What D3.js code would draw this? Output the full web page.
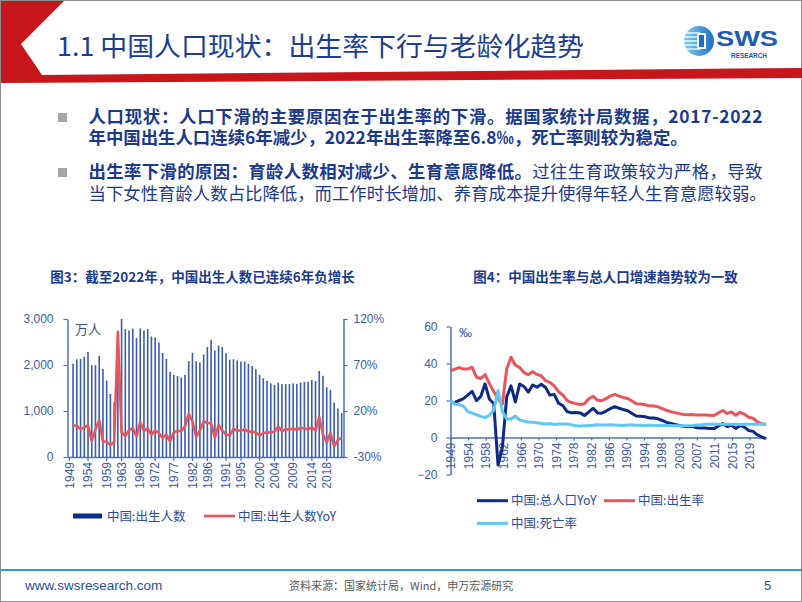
<!DOCTYPE html>
<html><head><meta charset="utf-8">
<script src="https://cdn.jsdelivr.net/npm/d3@7"></script>
<style>body{margin:0;background:#fff}svg{display:block}</style>
</head><body><svg id="c" width="802" height="602"></svg>
<script>
// ---------- DATA ----------
const years = d3.range(1949, 2023);
// 图3: 出生人数 (万人), 1949-2022
const births = [null,2030,2125,2130,2180,2285,1995,1995,2195,1915,1660,1370,1190,2450,3000,2780,2750,2795,2585,2795,
  2750,2780,2620,2600,2490,2260,2130,1850,1785,1760,1725,1785,2085,2265,2080,2055,2230,2390,2545,2315,
  2420,2390,2255,2115,2125,2100,2075,2075,2025,1980,1910,1785,1710,1655,1600,1565,1615,1585,1585,1585,
  1600,1590,1615,1635,1635,1675,1650,1870,1765,1515,1455,1185,1055,955];
// 图3: 出生人数YoY (%)
const birthsYoY = [null,4.5,4,0,2.3,4.5,-12.7,0,10,-12.8,-13.3,-17,-14,106,-3,-7.3,-1,1.5,-7.5,8,
  -1.6,1.1,-5.8,-0.8,-4.2,-9.2,-5.8,-13,-3.5,-1.4,-2,3.5,16.8,8.6,-8.2,-1.2,8.5,7.2,6.5,-9,
  4.5,-1.2,-5.6,-6.2,0.5,-1.2,-1.2,0,-2.4,-2.2,-3.5,-6.5,-4.2,-3.2,-3.3,-2.2,3.2,-1.9,0,0,
  0.9,-0.6,1.6,1.2,0,2.4,-1.5,13.3,-5.6,-14.2,-4,-18.6,-11,-9.5];
const leftXTicks = [1949,1954,1959,1963,1968,1972,1977,1982,1986,1991,1995,2000,2004,2009,2014,2018];
const leftYTicks = [0,1000,2000,3000];
const leftY2Ticks = [-30,20,70,120];

// 图4: 总人口YoY (‰), 出生率 (‰), 死亡率 (‰), 1949-2022
const popYoY = [null,19,20,21,22.9,25,19.9,22.2,29,20.7,18.4,-14.9,-5.3,21.8,27.9,19.2,28.9,27.6,24.5,28.4,
  27.2,28.8,27,22.9,23.3,18.5,17.2,14,13.4,13.5,13.3,11.9,13.8,15.8,13.3,13.1,14.3,15.6,16.7,15.8,
  15.1,14.5,13,11.6,11.5,11.2,10.6,10.5,10.1,9.2,8.2,7.6,7,6.5,6,5.9,5.9,5.3,5.2,5.1,
  4.9,4.8,6.2,7.5,5.9,6.7,4.9,6.5,5.6,3.8,3.3,1.4,0.3,-0.6];
const birthRate = [36,37,37.8,37,37,38,32.6,31.9,34,29.2,24.8,20.9,18,37,43.4,39.1,37.9,35.1,34,35.6,
  34.1,33.4,30.7,29.8,27.9,24.8,23,19.9,18.9,18.3,17.8,18.2,20.9,22.3,20.2,19.9,21,22.4,23.3,22.4,
  21.6,21.1,19.7,18.2,18.1,17.7,17.1,17,16.6,15.6,14.6,14,13.4,12.9,12.4,12.3,12.4,12.1,12.1,12.1,
  12,11.9,13.3,14.6,13,13.8,12,13.6,12.6,10.9,10.4,8.5,7.5,6.8];
const deathRate = [20,18,17.8,17,14,13.2,12.3,11.4,10.8,12,14.6,25.4,14.2,10,10,11.5,9.5,8.8,8.4,8.2,
  8,7.6,7.3,7.6,7,7.3,7.3,7.3,6.9,6.3,6.2,6.3,6.4,6.6,6.9,6.8,6.8,6.9,6.7,6.6,
  6.5,6.7,6.7,6.6,6.6,6.5,6.6,6.6,6.5,6.5,6.5,6.5,6.4,6.4,6.4,6.4,6.5,6.8,6.9,7.1,
  7.1,7.1,7.1,7.1,7.1,7.1,7.1,7,7.1,7.1,7.1,7.1,7.2,7.4];
const rightXLabels = ["1949","1954","1958","1962","1966","1970","1974","1978","1982","1986","1990","1994","1998","2003","2007","2011","2015","2019"];
const rightYTicks = [-20,0,20,40,60];

// ---------- STYLE ----------
const svg = d3.select("#c");
const LAT = "'Liberation Sans', Arial, 'Noto Sans CJK SC', sans-serif";
const CJK = "'Noto Sans CJK SC', 'Liberation Sans', sans-serif";
const axisCol = "#4a6fc0", labCol = "#3b5ba5", titleCol = "#1b3a8c";
const navy = "#0d2b84", red = "#e8555b", lblue = "#5ec8f2";

// frame
svg.append("rect").attr("x",0.5).attr("y",0.5).attr("width",801).attr("height",601)
  .attr("fill","none").attr("stroke","#8c8c8c");

// header red shape
svg.append("polygon").attr("points","1,1 64,1 21,44 42,75 802,68 802,78 1,83").attr("fill","#c8161d");

svg.append("text").attr("x",57).attr("y",56).attr("font-family",CJK).attr("font-size",26)
  .attr("fill","#1b3d93").attr("textLength",527).attr("lengthAdjust","spacingAndGlyphs")
  .text("1.1 中国人口现状：出生率下行与老龄化趋势");

// logo
const logo = svg.append("g");
const grad = svg.append("defs").append("linearGradient").attr("id","lg").attr("x1",0).attr("x2",1).attr("y1",0).attr("y2",0);
grad.append("stop").attr("offset","0%").attr("stop-color","#7fd0f5");
grad.append("stop").attr("offset","100%").attr("stop-color","#1c6fc4");
logo.append("circle").attr("cx",699).attr("cy",41).attr("r",15).attr("fill","url(#lg)");
[33,37,41,45,49].forEach(y=>logo.append("line").attr("x1",684).attr("x2",700).attr("y1",y).attr("y2",y).attr("stroke","#fff").attr("stroke-width",1.3));
logo.append("rect").attr("x",697).attr("y",33).attr("width",9).attr("height",16).attr("fill","#fff");
logo.append("rect").attr("x",699).attr("y",35).attr("width",5).attr("height",12).attr("fill","#1c6fc4");
logo.append("text").attr("x",716).attr("y",46).attr("font-family",LAT).attr("font-weight","bold")
  .attr("font-size",22).attr("fill","#1e5bb5").attr("textLength",62).attr("lengthAdjust","spacingAndGlyphs").text("SWS");
logo.append("text").attr("x",731).attr("y",57.5).attr("font-family",LAT).attr("font-weight","bold")
  .attr("font-size",6.5).attr("fill","#1e5bb5").attr("textLength",36).text("RESEARCH");

// bullets
const bt = [
  {y:123, parts:[["人口现状：人口下滑的主要原因在于出生率的下滑。据国家统计局数据，2017-2022",700]], fit:674},
  {y:144, parts:[["年中国出生人口连续6年减少，2022年出生率降至6.8‰，死亡率则较为稳定。",700]]},
  {y:178, parts:[["出生率下滑的原因：育龄人数相对减少、生育意愿降低。",700],["过往生育政策较为严格，导致",400]], fit:674},
  {y:199.5, parts:[["当下女性育龄人数占比降低，而工作时长增加、养育成本提升使得年轻人生育意愿较弱。",400]]}
];
[113,168].forEach(y=>svg.append("rect").attr("x",58).attr("y",y).attr("width",9).attr("height",9).attr("fill","#a6a6a6"));
bt.forEach(l=>{
  const t = svg.append("text").attr("x",88.5).attr("y",l.y).attr("font-family",CJK).attr("font-size",17.4).attr("fill","#1b3a8c");
  if (l.fit) t.attr("textLength",l.fit).attr("lengthAdjust","spacing");
  l.parts.forEach(p=>t.append("tspan").attr("font-weight",p[1]).text(p[0]));
});

// ---------- LEFT CHART ----------
svg.append("text").attr("x",202.5).attr("y",282).attr("text-anchor","middle").attr("font-family",CJK)
  .attr("font-weight",700).attr("font-size",13.5).attr("fill",titleCol).text("图3：截至2022年，中国出生人数已连续6年负增长");

const xL = d3.scaleBand().domain(years).range([67.5, 343.5]);
const bw = xL.bandwidth();
const yL = d3.scaleLinear().domain([0,3000]).range([457,319]);
const yL2 = d3.scaleLinear().domain([-30,120]).range([457,319]);

const bd = years.map((y,i)=>({y, v:births[i], r:birthsYoY[i]}));
svg.append("g").selectAll("rect").data(bd.filter(d=>d.v!=null)).join("rect")
  .attr("x",d=>xL(d.y)+bw/2-0.8).attr("width",1.6)
  .attr("y",d=>yL(d.v)).attr("height",d=>yL(0)-yL(d.v)).attr("fill","#3b5cb0");

function styleAxis(g){
  g.select(".domain").attr("stroke",axisCol).attr("stroke-width",1.5);
  g.selectAll(".tick line").attr("stroke",axisCol).attr("stroke-width",1.2);
  g.selectAll(".tick text").attr("fill",labCol).attr("font-family",LAT).attr("font-size",12);
}
svg.append("g").attr("transform","translate(67.5,0)")
  .call(d3.axisLeft(yL).tickValues(leftYTicks).tickFormat(d3.format(",")).tickSizeInner(4).tickSizeOuter(0).tickPadding(10))
  .call(styleAxis);
svg.append("g").attr("transform","translate(343.5,0)")
  .call(d3.axisRight(yL2).tickValues(leftY2Ticks).tickFormat(d=>d+"%").tickSizeInner(4).tickSizeOuter(0).tickPadding(6))
  .call(styleAxis);
const gxL = svg.append("g").attr("transform","translate(0,457)")
  .call(d3.axisBottom(xL).tickValues(leftXTicks).tickSizeInner(4).tickSizeOuter(0)).call(styleAxis);
gxL.selectAll(".tick text").attr("transform","rotate(-90)").attr("x",-5).attr("y",0).attr("dy","0.35em").attr("text-anchor","end");

svg.append("path").datum(bd).attr("fill","none").attr("stroke",red).attr("stroke-width",2.6)
  .attr("stroke-linejoin","round")
  .attr("d", d3.line().defined(d=>d.r!=null).x(d=>xL(d.y)+bw/2).y(d=>yL2(d.r)));

svg.append("text").attr("x",75).attr("y",334).attr("font-family",CJK).attr("font-size",13).attr("fill","#3d4f8a").text("万人");

// left legend
svg.append("rect").attr("x",73).attr("y",513.5).attr("width",29).attr("height",5).attr("fill","#0b2d8f");
svg.append("text").attr("x",107).attr("y",520.5).attr("font-family",CJK).attr("font-size",12.5).attr("fill","#2c4c9c").text("中国:出生人数");
svg.append("line").attr("x1",204).attr("x2",235).attr("y1",516).attr("y2",516).attr("stroke",red).attr("stroke-width",2.6);
svg.append("text").attr("x",238).attr("y",520.5).attr("font-family",CJK).attr("font-size",12.5).attr("fill","#2c4c9c").text("中国:出生人数YoY");

// ---------- RIGHT CHART ----------
svg.append("text").attr("x",605.5).attr("y",282).attr("text-anchor","middle").attr("font-family",CJK)
  .attr("font-weight",700).attr("font-size",13.5).attr("fill",titleCol).text("图4：中国出生率与总人口增速趋势较为一致");

const xR = d3.scaleLinear().domain([1949,2022]).range([450.5, 766]);
const yR = d3.scaleLinear().domain([-20,60]).range([474.5, 326.5]);

svg.append("g").attr("transform","translate(450.5,0)")
  .call(d3.axisLeft(yR).tickValues(rightYTicks).tickSizeInner(4).tickSizeOuter(0).tickPadding(9))
  .call(styleAxis);
const rPos = rightXLabels.map((s,i)=>1949 + i*4.07);
const gxR = svg.append("g").attr("transform",`translate(0,${yR(0)})`)
  .call(d3.axisBottom(xR).tickValues(rPos).tickFormat((d,i)=>rightXLabels[i]).tickSizeInner(3).tickSizeOuter(0))
  .call(styleAxis);
gxR.selectAll(".tick text").attr("transform","rotate(-90)").attr("x",-5).attr("y",0).attr("dy","0.35em").attr("text-anchor","end");

svg.append("text").attr("x",459).attr("y",337).attr("font-family",LAT).attr("font-size",13).attr("fill",labCol).text("‰");

const rd = years.map((y,i)=>({y, p:popYoY[i], b:birthRate[i], d:deathRate[i]}));
[["p",navy],["b",red],["d",lblue]].forEach(([k,c])=>{
  svg.append("path").datum(rd).attr("fill","none").attr("stroke",c).attr("stroke-width",3)
    .attr("stroke-linejoin","round")
    .attr("d", d3.line().defined(d=>d[k]!=null).x(d=>xR(d.y)).y(d=>yR(d[k])));
});

// right legend
const lg = [[477,500.7,navy,"中国:总人口YoY"],[604,500.7,red,"中国:出生率"],[477,523.3,lblue,"中国:死亡率"]];
lg.forEach(([x,y,c,t])=>{
  svg.append("line").attr("x1",x).attr("x2",x+31).attr("y1",y).attr("y2",y).attr("stroke",c).attr("stroke-width",3);
  svg.append("text").attr("x",x+34).attr("y",y+4.5).attr("font-family",CJK).attr("font-size",12.5).attr("fill","#2c4c9c").text(t);
});

// ---------- FOOTER ----------
svg.append("line").attr("x1",0).attr("x2",802).attr("y1",570).attr("y2",570).attr("stroke","#2b9fd3").attr("stroke-width",2);
svg.append("text").attr("x",25).attr("y",590).attr("font-family",LAT).attr("font-size",13.5).attr("fill","#1f4f9f").text("www.swsresearch.com");
svg.append("text").attr("x",289).attr("y",589.5).attr("font-family",CJK).attr("font-size",11).attr("fill","#595959").text("资料来源：国家统计局，Wind，申万宏源研究");
svg.append("text").attr("x",764).attr("y",590).attr("font-family",LAT).attr("font-size",13).attr("fill","#1f4f9f").text("5");
</script></body></html>
